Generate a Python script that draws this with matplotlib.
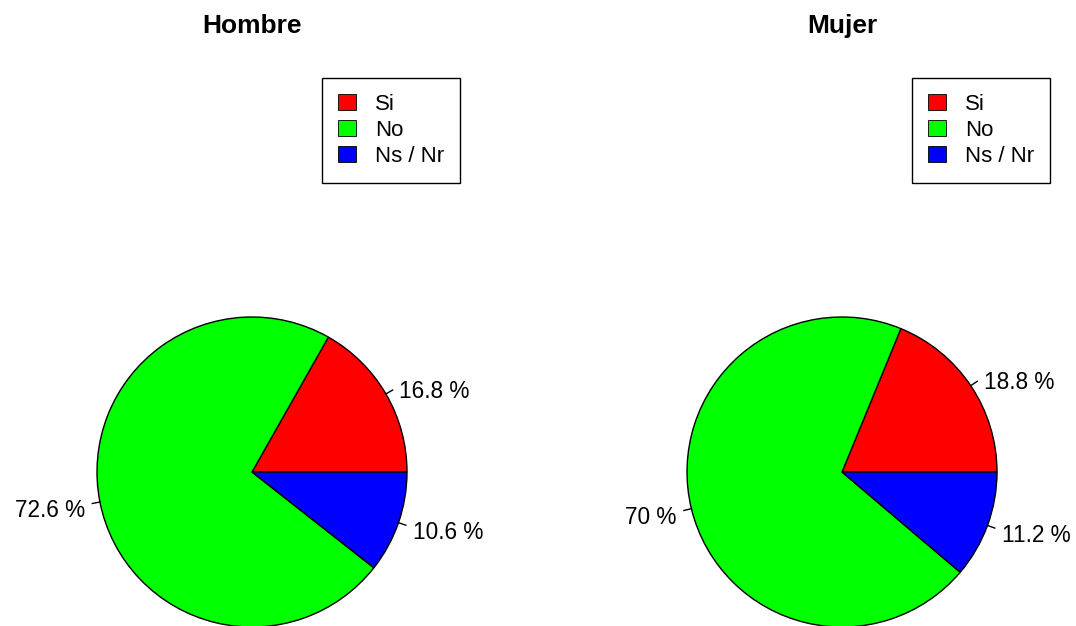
import numpy as np
import matplotlib
matplotlib.use('Agg')
import matplotlib.pyplot as plt
from matplotlib.patches import Patch

plt.rcParams['font.family'] = ['Liberation Sans', 'DejaVu Sans']

categories = ['Si', 'No', 'Ns / Nr']
colors = ['#FF0000', '#00FF00', '#0000FF']
titles = ['Hombre', 'Mujer']
hombre = [16.8, 72.6, 10.6]
mujer = [18.8, 70, 11.2]
hombre_labels = ['16.8 %', '72.6 %', '10.6 %']
mujer_labels = ['18.8 %', '70 %', '11.2 %']

W, H = 1076, 626
fig = plt.figure(figsize=(W / 100, H / 100), dpi=100)

R = 155  # pie radius in pixels


def draw_pie(x0, x1, cx, cy, vals, labs, title, leg_x, leg_y):
    # axes covering pixel columns x0..x1, whole height; 1 data unit = R px
    ax = fig.add_axes([x0 / W, 0, (x1 - x0) / W, 1])
    wedges, _ = ax.pie(vals, colors=colors, startangle=0, counterclock=True,
                       wedgeprops=dict(edgecolor='black', linewidth=1))
    ax.set_aspect('auto')
    ax.set_xlim(-(cx - x0) / R, (x1 - cx) / R)
    ax.set_ylim(-(H - cy) / R, cy / R)
    ax.axis('off')

    tot = sum(vals)
    cum = 0
    for v, lab in zip(vals, labs):
        mid = np.deg2rad((cum + v / 2) / tot * 360)
        cum += v
        c, s = np.cos(mid), np.sin(mid)
        ax.plot([c, 1.05 * c], [s, 1.05 * s], color='black', lw=1)
        ax.text(1.1 * c, 1.1 * s - 5 / R, lab, fontsize=16.3,
                ha='left' if c > 0 else 'right', va='center')

    ax.text(0, (cy - 26) / R, title, fontsize=19, fontweight='bold',
            ha='center', va='center')

    handles = [Patch(facecolor=col, edgecolor='black', linewidth=0.6) for col in colors]
    leg = fig.legend(handles, categories, loc='upper left',
                     bbox_to_anchor=(leg_x / W, 1 - leg_y / H),
                     bbox_transform=fig.transFigure, borderaxespad=0,
                     fontsize=16, fancybox=False, edgecolor='black',
                     framealpha=1, borderpad=0.72, handlelength=0.8,
                     handleheight=0.7, handletextpad=0.85, labelspacing=0.22)
    leg.get_frame().set_linewidth(1)


draw_pie(0, 538, 252, 472, hombre, hombre_labels, titles[0], 322, 78)
draw_pie(538, 1076, 842, 472, mujer, mujer_labels, titles[1], 912, 78)

fig.savefig('out.png', dpi=100, facecolor='white')
